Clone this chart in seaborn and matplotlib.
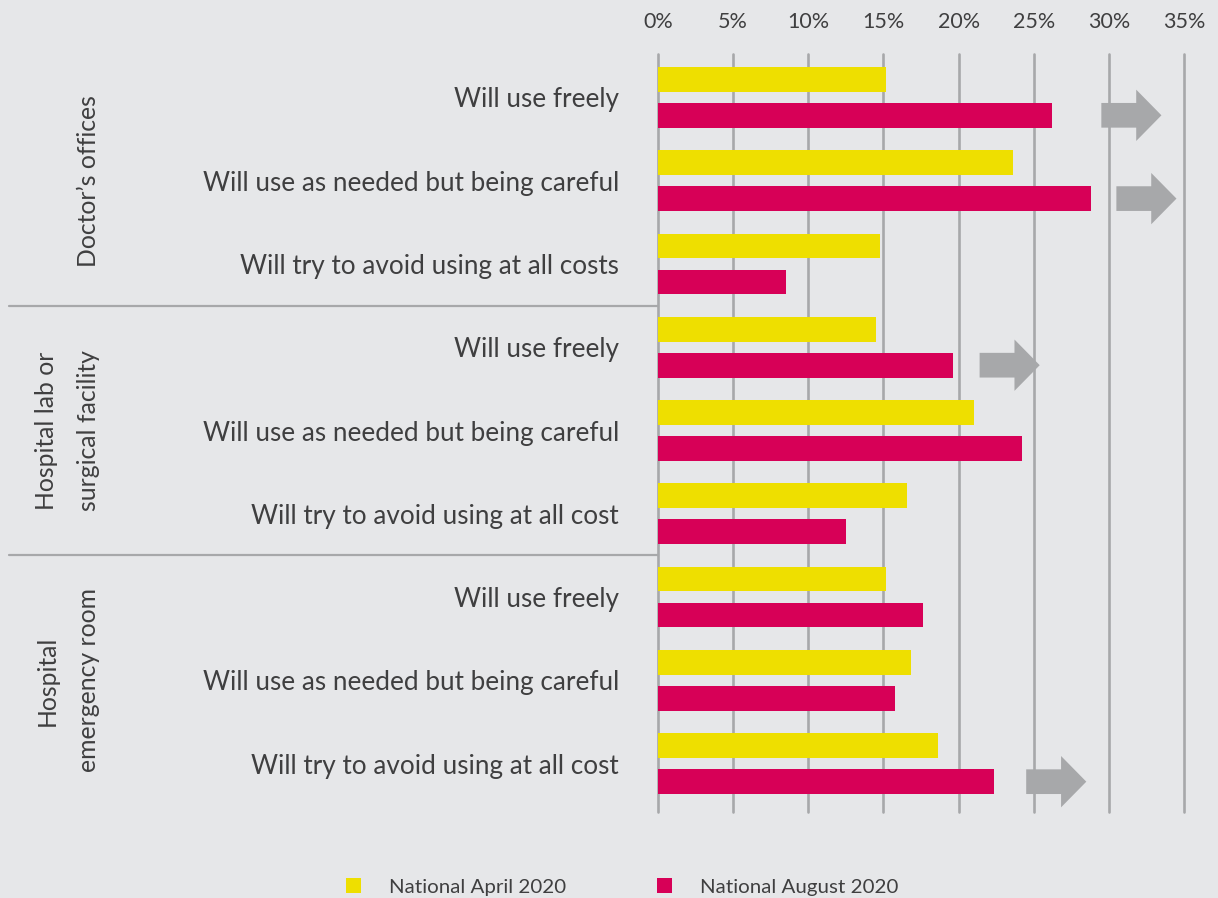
import numpy as np
import pandas as pd
import seaborn as sns
import matplotlib
matplotlib.use("Agg")
import matplotlib.pyplot as plt
import matplotlib.transforms as mtransforms
from matplotlib.patches import FancyArrow

# ---------------- data ----------------
groups = ["Doctor’s offices", "Hospital lab or\nsurgical facility", "Hospital\nemergency room"]
responses = [
    "Will use freely", "Will use as needed but being careful", "Will try to avoid using at all costs",
    "Will use freely", "Will use as needed but being careful", "Will try to avoid using at all cost",
    "Will use freely", "Will use as needed but being careful", "Will try to avoid using at all cost",
]
april = [15.15, 23.65, 14.75, 14.5, 21.05, 16.6, 15.15, 16.85, 18.65]
august = [26.2, 28.8, 8.5, 19.65, 24.2, 12.5, 17.65, 15.8, 22.35]
series = ["National April 2020", "National August 2020"]
colors = ["#EEDF00", "#D70057"]
xticks = [0, 5, 10, 15, 20, 25, 30, 35]
xtick_labels = ["0%", "5%", "10%", "15%", "20%", "25%", "30%", "35%"]
arrow_rows = [0, 1, 3, 8]
arrow_starts = [29.5, 30.5, 21.4, 24.5]
arrow_length = 4.0

BG = "#E6E7E9"
GRID = "#A7A8AA"
TXT = "#3F3F40"

keys = [f"{i}|{r}" for i, r in enumerate(responses)]
df = pd.DataFrame({
    "key": keys * 2,
    "value": april + august,
    "series": [series[0]] * 9 + [series[1]] * 9,
})

sns.set_theme(style="white", rc={"axes.facecolor": BG, "figure.facecolor": BG})
plt.rcParams["font.family"] = ["Lato", "DejaVu Sans"]

W, H = 1218, 898
fig = plt.figure(figsize=(W / 100, H / 100), dpi=100)
ax = fig.add_axes([658 / W, 1 - 812 / H, (1184 - 658) / W, (812 - 54) / H])

sns.barplot(data=df, x="value", y="key", hue="series", palette=colors, orient="h",
            width=0.864, gap=0.314, saturation=1, linewidth=0, ax=ax, zorder=3)

ax.set_xlim(0, 35)
ax.set_ylim(8.58, -0.52)
for s in ax.spines.values():
    s.set_visible(False)
ax.set_xlabel("")
ax.set_ylabel("")

# gridlines
for t in xticks:
    ax.axvline(t, color=GRID, lw=1.9, zorder=1, clip_on=False)

ax.set_xticks(xticks)
ax.set_xticklabels(xtick_labels)
ax.xaxis.tick_top()
ax.tick_params(axis="x", length=0, pad=16, labelsize=15.5, labelcolor=TXT)
ax.set_yticks(range(len(responses)))
ax.set_yticklabels(responses)
ax.tick_params(axis="y", length=0, pad=28, labelsize=18.8, labelcolor=TXT)

# arrows next to August bars
aug_bars = ax.containers[1]
for r, x0 in zip(arrow_rows, arrow_starts):
    b = aug_bars[r]
    yc = b.get_y() + b.get_height() / 2
    h = b.get_height()
    ax.add_patch(FancyArrow(x0, yc, arrow_length, 0, width=h, head_width=h * 2.08,
                            head_length=1.68, length_includes_head=True,
                            color=GRID, lw=0, zorder=3, clip_on=False))

# group separators and group labels
trans = mtransforms.blended_transform_factory(fig.transFigure, ax.transData)
for yb in [2.5, 5.5]:
    fig.add_artist(plt.Line2D([9 / W, 658 / W], [yb, yb], transform=trans,
                              color=GRID, lw=1.6))
for gi, g in enumerate(groups):
    yc = gi * 3 + 1
    xc = 88 / W if "\n" not in g else 67.5 / W
    fig.text(xc, yc, g, transform=trans, rotation=90, ha="center", va="center",
             multialignment="center", fontsize=17.8, color=TXT, linespacing=1.95)

# legend
handles, labels = ax.get_legend_handles_labels()
ax.get_legend().remove()
fig.legend(handles, labels, loc="center", bbox_to_anchor=(622 / W, 1 - 887 / H),
           ncol=2, frameon=False, fontsize=14.75, handlelength=0.75, handleheight=0.75,
           handletextpad=1.35, columnspacing=4.45, labelcolor=TXT)

fig.savefig("out.png", dpi=100, facecolor=BG)
